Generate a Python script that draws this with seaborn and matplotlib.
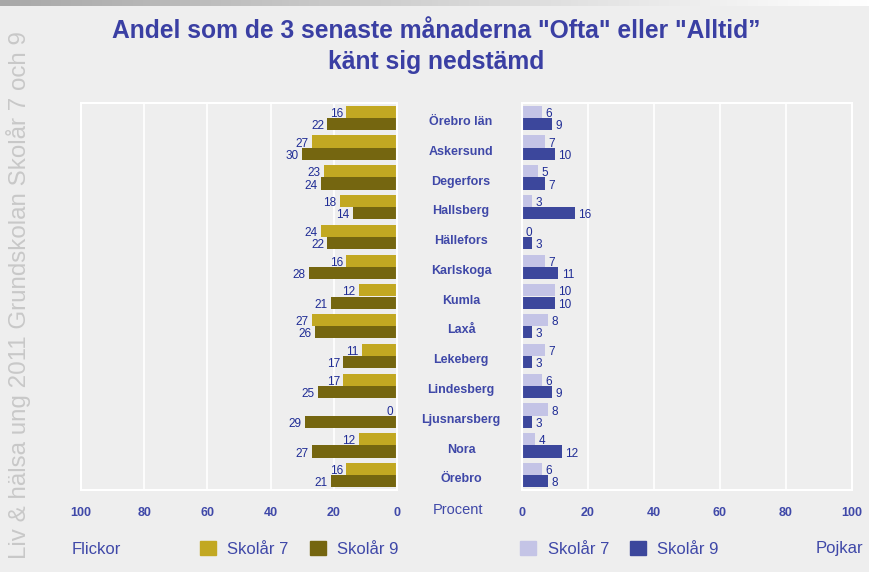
import matplotlib.pyplot as plt
import matplotlib.transforms as mtransforms
import numpy as np
import pandas as pd
import seaborn as sns
from matplotlib.colors import LinearSegmentedColormap
from matplotlib.patches import Patch

kommuner = ['Örebro län', 'Askersund', 'Degerfors', 'Hallsberg', 'Hällefors',
            'Karlskoga', 'Kumla', 'Laxå', 'Lekeberg', 'Lindesberg',
            'Ljusnarsberg', 'Nora', 'Örebro']
flickor_7 = [16, 27, 23, 18, 24, 16, 12, 27, 11, 17, 0, 12, 16]
flickor_9 = [22, 30, 24, 14, 22, 28, 21, 26, 17, 25, 29, 27, 21]
pojkar_7 = [6, 7, 5, 3, 0, 7, 10, 8, 7, 6, 8, 4, 6]
pojkar_9 = [9, 10, 7, 16, 3, 11, 10, 3, 3, 9, 3, 12, 8]
skolar = ['Skolår 7', 'Skolår 9']
x_ticks = [0, 20, 40, 60, 80, 100]

BG = '#EEEEEE'
BLUE = '#3F48A8'
LABEL_BLUE = '#1F2C95'
FLICKOR_COLORS = ['#C2A822', '#756610']
POJKAR_COLORS = ['#C4C4E6', '#3C479C']


def long_frame(v7, v9):
    return pd.DataFrame({
        'kommun': kommuner * 2,
        'procent': v7 + v9,
        'skolar': [skolar[0]] * len(v7) + [skolar[1]] * len(v9),
    })


sns.set_theme(style='whitegrid', rc={'axes.facecolor': BG,
                                     'figure.facecolor': BG,
                                     'grid.color': 'white',
                                     'axes.edgecolor': 'white'})
plt.rcParams['font.family'] = ['Liberation Sans', 'DejaVu Sans']

fig = plt.figure(figsize=(8.7, 5.72), dpi=100)
bottom = 1 - 490 / 572
height = 387 / 572
ax_f = fig.add_axes([81 / 870, bottom, 316 / 870, height])
ax_p = fig.add_axes([522 / 870, bottom, 330 / 870, height])

panels = [(ax_f, long_frame(flickor_7, flickor_9), FLICKOR_COLORS, -1),
          (ax_p, long_frame(pojkar_7, pojkar_9), POJKAR_COLORS, 1)]

for ax, df, colors, side in panels:
    sns.barplot(data=df, y='kommun', x='procent', hue='skolar',
                palette=colors, orient='h', ax=ax, legend=False,
                saturation=1, width=0.82, linewidth=0)
    for container in ax.containers:
        anns = ax.bar_label(container, padding=2, fontsize=8.5,
                            color=LABEL_BLUE)
        for ann in anns:
            # labels always sit outside the bar end, on screen
            ann.xyann = (side * 2.5, -1.5)
            ann.set_ha('left' if side > 0 else 'right')
    ax.set_xticks(x_ticks)
    ax.set_xlabel('')
    ax.set_ylabel('')
    ax.grid(axis='y', visible=False)
    ax.grid(axis='x', color='white', linewidth=1.2)
    ax.tick_params(axis='x', length=0, pad=12, labelsize=9,
                   labelcolor=BLUE)
    ax.tick_params(axis='y', left=False, labelleft=False)
    for lbl in ax.get_xticklabels():
        lbl.set_fontweight('bold')
    for spine in ax.spines.values():
        spine.set_color('white')
        spine.set_linewidth(1.5)
    ax.set_ylim(len(kommuner) - 0.5, -0.5)

ax_f.set_xlim(100, 0)
ax_p.set_xlim(0, 100)

# kommun names centred between the two panels, a little below the bars' middle
name_trans = (mtransforms.blended_transform_factory(fig.transFigure, ax_p.transData)
              + mtransforms.ScaledTranslation(0, -3 / 72, fig.dpi_scale_trans))
for i, name in enumerate(kommuner):
    fig.text(461 / 870, i, name, transform=name_trans, ha='center',
             va='center', fontsize=9, fontweight='bold', color=BLUE)

fig.text(0.501, 0.919,
         'Andel som de 3 senaste månaderna "Ofta" eller "Alltid”\n'
         'känt sig nedstämd',
         ha='center', va='center', fontsize=17.7, fontweight='bold',
         color='#3A3FA3', linespacing=1.4)

fig.text(0.021, 1 - 295 / 572, 'Liv & hälsa ung 2011 Grundskolan Skolår 7 och 9',
         rotation=90, ha='center', va='center', fontsize=17.4,
         color='#C8C8C8')

fig.text(458 / 870, 1 - 510 / 572, 'Procent', ha='center', va='center',
         fontsize=10.5, color=BLUE)
fig.text(72 / 870, 1 - 549 / 572, 'Flickor', ha='left', va='center',
         fontsize=12, color=BLUE)
fig.text(863 / 870, 1 - 549 / 572, 'Pojkar', ha='right', va='center',
         fontsize=12, color=BLUE)

for colors, x0 in [(FLICKOR_COLORS, 200), (POJKAR_COLORS, 520)]:
    handles = [Patch(color=c, label=s) for c, s in zip(colors, skolar)]
    fig.legend(handles=handles, loc='center left',
               bbox_to_anchor=(x0 / 870, 1 - 549 / 572), ncol=2,
               frameon=False, fontsize=12, labelcolor=BLUE,
               handlelength=0.95, handleheight=0.95, handletextpad=0.7,
               columnspacing=1.25, borderaxespad=0, borderpad=0)

# grey gradient strip along the top edge
gax = fig.add_axes([0, 1 - 6 / 572, 1, 6 / 572])
fade = LinearSegmentedColormap.from_list('fade', ['#A8A8A8', '#FFFFFF'])
gax.imshow(np.linspace(0, 1, 256)[None, :], cmap=fade, aspect='auto')
gax.axis('off')

fig.savefig('out.png', dpi=100, facecolor=BG)
